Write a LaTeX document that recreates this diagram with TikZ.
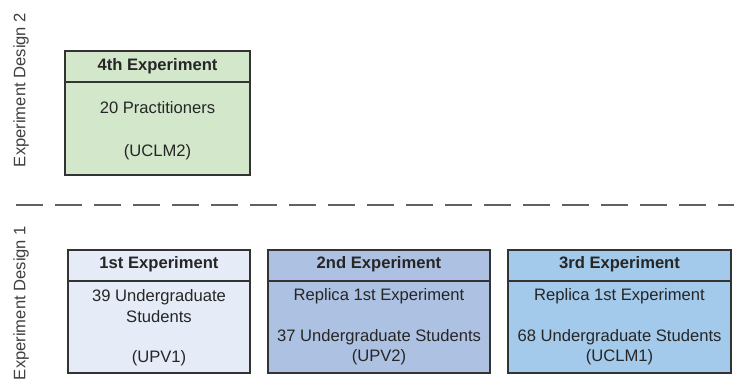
\documentclass[tikz,border=0pt]{standalone}
\usepackage{fontspec}
\setmainfont{Liberation Sans}
\begin{document}
\begin{tikzpicture}[x=1pt,y=-1pt,
  txt/.style={font=\fontsize{16.6}{19}\selectfont, text=black!85, inner sep=0pt},
  head/.style={txt, font=\fontsize{16.6}{19}\selectfont\bfseries},
  boxline/.style={draw=black!80, line width=1.3pt},
  sidelabel/.style={txt, rotate=90, text=black!75}]
\definecolor{greenfill}{HTML}{D3E8CB}
\definecolor{palefill}{HTML}{E6ECF7}
\definecolor{midfill}{HTML}{ADC1E2}
\definecolor{bluefill}{HTML}{A3C9EB}
\useasboundingbox (0,0) rectangle (734,380);
\fill[white] (0,0) rectangle (734,380);

% side labels
\node[sidelabel] (d2) at (21,90) {Experiment Design 2};
\node[sidelabel] (d1) at (21,303) {Experiment Design 1};

% separator between the two designs
\draw[black!62, line width=2pt, dash pattern=on 27pt off 12pt]
  (16,205) coordinate (sepL) -- (736,205) coordinate (sepR);

% 4th experiment
\draw[boxline, fill=greenfill] (65,51) rectangle (250,175);
\draw[boxline] (65,82) -- (250,82);
\node[head] (h4) at (157.5,66) {4th Experiment};
\node[txt] (b4a) at (157.5,108) {20 Practitioners};
\node[txt] (b4b) at (157.5,152) {(UCLM2)};

% 1st experiment
\draw[boxline, fill=palefill] (68,250) rectangle (250,373);
\draw[boxline] (68,281) -- (250,281);
\node[head] (h1) at (159,264) {1st Experiment};
\node[txt] (b1a) at (159,297) {39 Undergraduate};
\node[txt] (b1b) at (159,317) {Students};
\node[txt] (b1c) at (159,358) {(UPV1)};

% 2nd experiment
\draw[boxline, fill=midfill] (268,250) rectangle (490,373);
\draw[boxline] (268,281) -- (490,281);
\node[head] (h2) at (379,264) {2nd Experiment};
\node[txt] (b2a) at (379,296) {Replica 1st Experiment};
\node[txt] (b2b) at (379,337) {37 Undergraduate Students};
\node[txt] (b2c) at (379,357) {(UPV2)};

% 3rd experiment
\draw[boxline, fill=bluefill] (508,250) rectangle (731,373);
\draw[boxline] (508,281) -- (731,281);
\node[head] (h3) at (619.5,264) {3rd Experiment};
\node[txt] (b3a) at (619.5,296) {Replica 1st Experiment};
\node[txt] (b3b) at (619.5,337) {68 Undergraduate Students};
\node[txt] (b3c) at (619.5,357) {(UCLM1)};
\end{tikzpicture}
\end{document}
